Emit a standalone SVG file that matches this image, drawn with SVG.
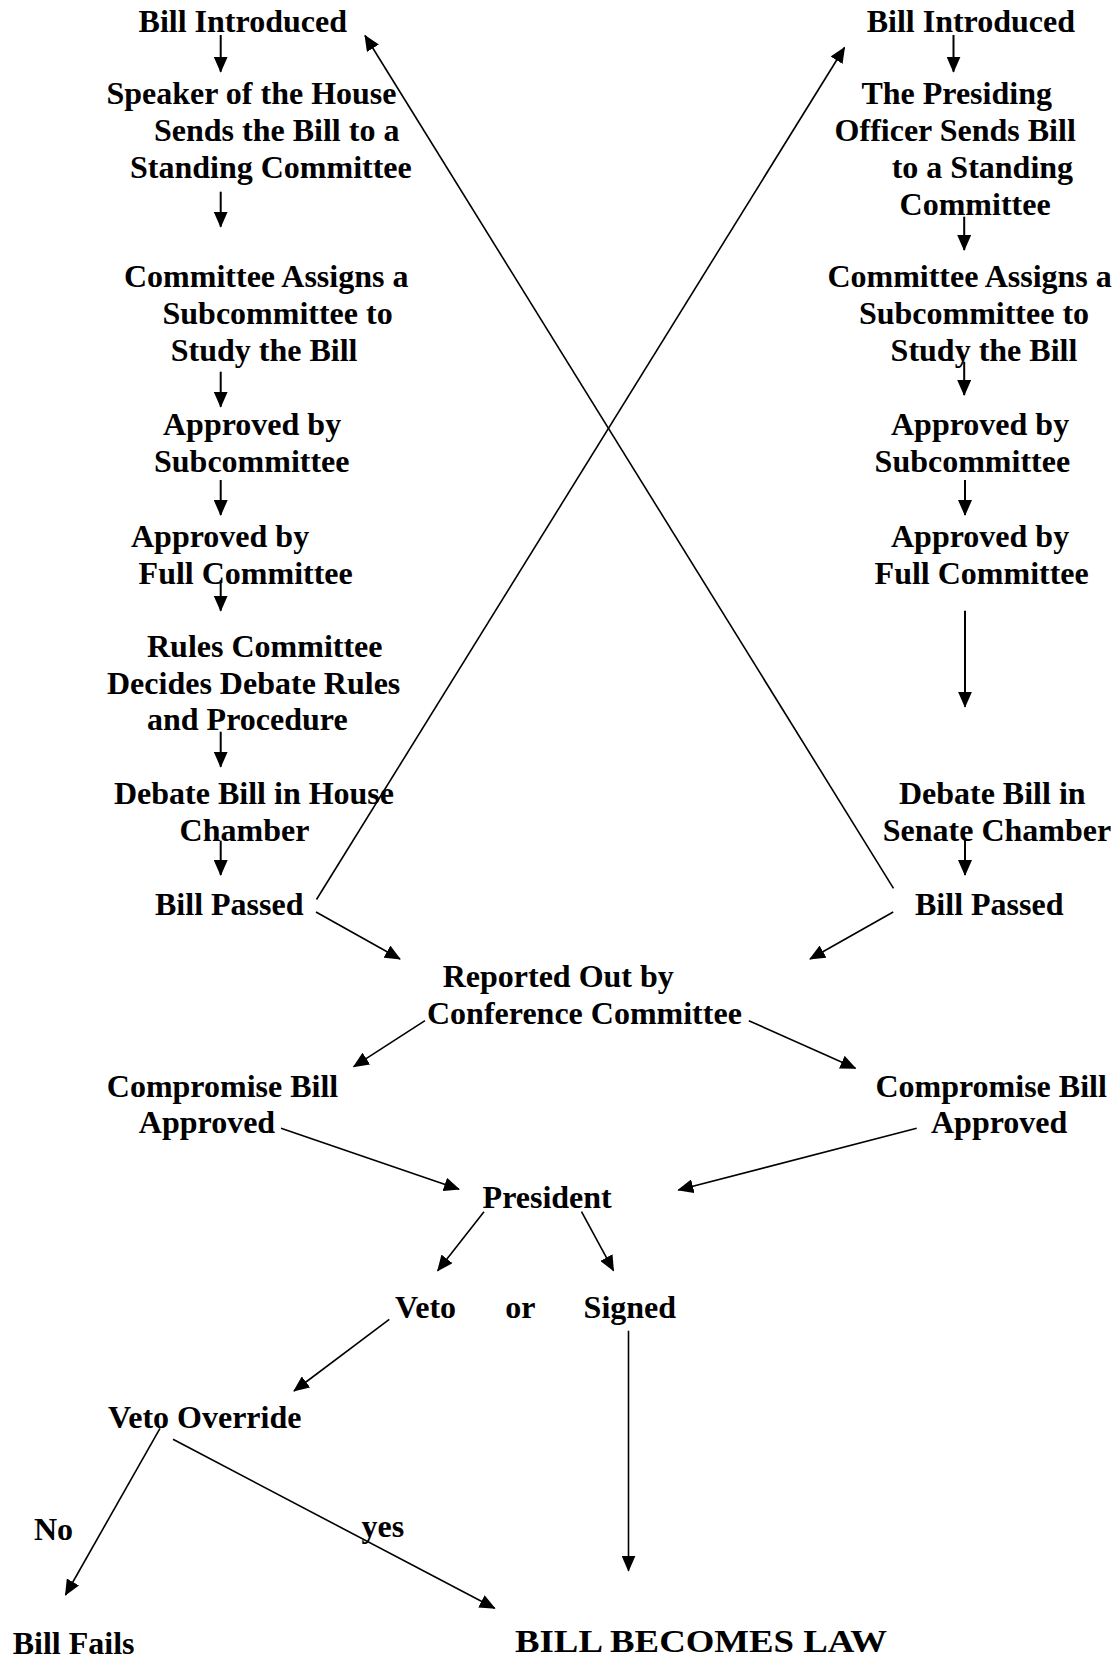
<svg xmlns="http://www.w3.org/2000/svg" width="1116" height="1660" viewBox="0 0 1116 1660">
<style>
text{font-family:"Liberation Serif","Times New Roman",serif;font-weight:bold;font-size:32px;fill:#000}
.c line{stroke:#000;stroke-width:2;marker-end:url(#ah)}
.c line.thin{stroke-width:1.6}
</style>
<defs>
<marker id="ah" markerUnits="userSpaceOnUse" markerWidth="16" markerHeight="14" refX="15" refY="7" orient="auto" viewBox="0 0 16 14">
<path d="M0,0 L16,7 L0,14 Z" fill="#000"/>
</marker>
</defs>
<rect width="1116" height="1660" fill="#fff"/>
<g id="house">
<g id="h1"><text x="138.6" y="32">Bill Introduced</text></g>
<g id="h2"><text x="106.4" y="104">Speaker of the House</text><text x="154" y="141">Sends the Bill to a</text><text x="130" y="178">Standing Committee</text></g>
<g id="h3"><text x="124" y="287">Committee Assigns a</text><text x="162.5" y="324">Subcommittee to</text><text x="170.7" y="361">Study the Bill</text></g>
<g id="h4"><text x="163" y="435">Approved by</text><text x="154" y="472">Subcommittee</text></g>
<g id="h5"><text x="131" y="547">Approved by</text><text x="138.6" y="584">Full Committee</text></g>
<g id="h6"><text x="147" y="657">Rules Committee</text><text x="107" y="694">Decides Debate Rules</text><text x="147" y="730">and Procedure</text></g>
<g id="h7"><text x="114" y="804">Debate Bill in House</text><text x="179.6" y="841">Chamber</text></g>
<g id="h8"><text x="155" y="915">Bill Passed</text></g>
</g>
<g id="senate">
<g id="s1"><text x="866.7" y="32">Bill Introduced</text></g>
<g id="s2"><text x="861.4" y="104">The Presiding</text><text x="834.6" y="141">Officer Sends Bill</text><text x="891.7" y="178">to a Standing</text><text x="899.6" y="214.5">Committee</text></g>
<g id="s3"><text x="827.4" y="287">Committee Assigns a</text><text x="858.9" y="324">Subcommittee to</text><text x="890.6" y="361">Study the Bill</text></g>
<g id="s4"><text x="891" y="435">Approved by</text><text x="874.6" y="472">Subcommittee</text></g>
<g id="s5"><text x="891" y="547">Approved by</text><text x="874.6" y="584">Full Committee</text></g>
<g id="s6"><text x="898.9" y="804">Debate Bill in</text><text x="882.8" y="841">Senate Chamber</text></g>
<g id="s7"><text x="915" y="915">Bill Passed</text></g>
</g>
<g id="conf"><text x="442.7" y="987.3">Reported Out by</text><text x="427" y="1024">Conference Committee</text></g>
<g id="compL"><text x="106.8" y="1097.3">Compromise Bill</text><text x="138.8" y="1133.3">Approved</text></g>
<g id="compR"><text x="875.4" y="1097.3">Compromise Bill</text><text x="931" y="1133.3">Approved</text></g>
<g id="president"><text x="482.6" y="1208.3">President</text></g>
<g id="veto"><text x="395" y="1318.3">Veto</text></g>
<g id="orlabel"><text x="505.3" y="1318.3">or</text></g>
<g id="signed"><text x="583.6" y="1318.3">Signed</text></g>
<g id="override"><text x="108" y="1428.3">Veto Override</text></g>
<g id="labels"><text x="34" y="1540">No</text><text x="361.6" y="1537">yes</text></g>
<g id="fails"><text x="12.7" y="1654">Bill Fails</text></g>
<g id="law"><text x="515" y="1652" textLength="372" lengthAdjust="spacingAndGlyphs">BILL BECOMES LAW</text></g>
<g id="connectors" class="c">
<line x1="220.7" y1="35" x2="220.7" y2="71.7"/>
<line x1="220.7" y1="191.7" x2="220.7" y2="226.7"/>
<line x1="220.7" y1="371.7" x2="220.7" y2="406.7"/>
<line x1="220.7" y1="480" x2="220.7" y2="515"/>
<line x1="220.7" y1="580" x2="220.7" y2="610.7"/>
<line x1="220.7" y1="731.7" x2="220.7" y2="766.7"/>
<line x1="220.7" y1="840.7" x2="220.7" y2="875"/>
<line x1="953.5" y1="35" x2="953.5" y2="71.7"/>
<line x1="964.2" y1="216.7" x2="964.2" y2="250"/>
<line x1="964.2" y1="361.7" x2="964.2" y2="395"/>
<line x1="965" y1="480" x2="965" y2="515"/>
<line x1="965" y1="610.7" x2="965" y2="706.7"/>
<line x1="965" y1="840" x2="965" y2="875"/>
<line class="thin" x1="316.5" y1="899.5" x2="844.5" y2="47.5"/>
<line class="thin" x1="893.5" y1="888.3" x2="365" y2="35.5"/>
<line class="thin" x1="316" y1="912" x2="400" y2="959"/>
<line class="thin" x1="893.2" y1="912" x2="810" y2="959"/>
<line class="thin" x1="425" y1="1020.7" x2="353.7" y2="1066.7"/>
<line class="thin" x1="748.8" y1="1020.7" x2="855.5" y2="1068.3"/>
<line class="thin" x1="281" y1="1128.3" x2="459" y2="1189.3"/>
<line class="thin" x1="916.7" y1="1128.3" x2="678.3" y2="1190"/>
<line class="thin" x1="484" y1="1211.7" x2="437.7" y2="1270.7"/>
<line class="thin" x1="581.5" y1="1211.7" x2="613.5" y2="1270.7"/>
<line class="thin" x1="389.3" y1="1319.3" x2="294" y2="1391"/>
<line class="thin" x1="628.5" y1="1330.7" x2="628.5" y2="1570.7"/>
<line class="thin" x1="160" y1="1428.3" x2="65.5" y2="1595"/>
<line class="thin" x1="173" y1="1439.3" x2="494.7" y2="1608.3"/>
</g>
</svg>
